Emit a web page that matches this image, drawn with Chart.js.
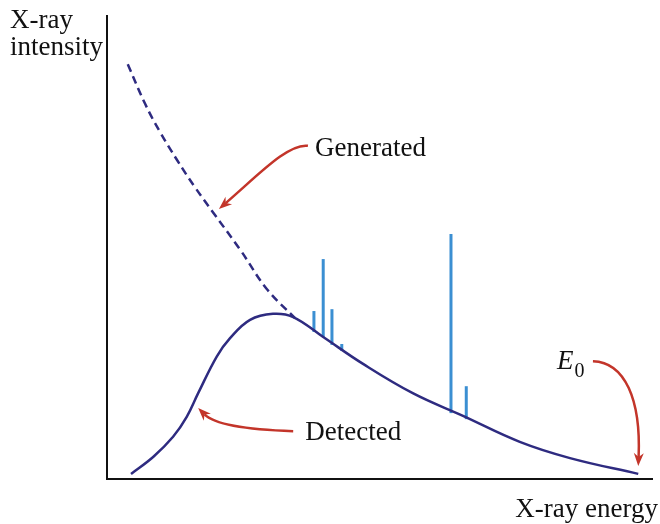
<!DOCTYPE html>
<html>
<head>
<meta charset="utf-8">
<title>X-ray spectrum</title>
<script src="https://cdn.jsdelivr.net/npm/chart.js@4/dist/chart.umd.min.js"></script>
<style>
  html, body { margin: 0; padding: 0; background: #fff; }
  #wrap { width: 660px; height: 524px; }
</style>
</head>
<body>
<div id="wrap"><canvas id="spectrum" width="660" height="524"></canvas></div>
<script>
// Energy (0-100) and intensity (0-100)
const detectedEnergy    = [4.4, 8.5, 12.1, 14.6, 16.7, 20.1, 22.5, 26.2, 30.4, 34.1, 39.6, 46.9, 56.0, 65.2, 75.6, 84.8, 97.3];
const detectedIntensity = [1.1, 4.8, 9.1, 13.4, 18.5, 26.4, 30.3, 34.3, 35.6, 34.9, 30.6, 24.8, 18.5, 13.6, 8.0, 4.5, 1.1];

const generatedEnergy    = [3.8, 7.0, 9.7, 12.8, 16.1, 19.4, 24.4, 29.3, 34.4];
const generatedIntensity = [89.4, 80.8, 74.8, 68.8, 62.9, 57.5, 49.4, 40.9, 34.7];

// characteristic lines: position, base (on the detected curve) and top
const peakEnergy = [37.9, 39.6, 41.2, 43.0, 63.0, 65.8];
const peakBase   = [31.7, 30.6, 28.9, 27.6, 14.2, 12.9];
const peakTop    = [36.2, 47.4, 36.6, 29.1, 52.8, 20.0];

const curveColor = '#2e2b80';
const peakColor = '#3b8fd2';
const arrowColor = '#c3352a';
const serif = '"Liberation Serif", "DejaVu Serif", serif';

function toPoints(xs, ys) {
    return xs.map(function(x, i) { return { x: x, y: ys[i] }; });
}

const datasets = [
    {
        label: 'Detected',
        data: toPoints(detectedEnergy, detectedIntensity),
        borderColor: curveColor,
        borderWidth: 2.5,
        tension: 0.4,
        pointRadius: 0
    },
    {
        label: 'Generated',
        data: toPoints(generatedEnergy, generatedIntensity),
        borderColor: curveColor,
        borderWidth: 2.5,
        borderDash: [8, 5],
        tension: 0.4,
        pointRadius: 0
    }
];

peakEnergy.forEach(function(e, i) {
    datasets.push({
        label: 'Line ' + (i + 1),
        data: [{ x: e, y: peakBase[i] }, { x: e, y: peakTop[i] }],
        borderColor: peakColor,
        borderWidth: 3,
        pointRadius: 0
    });
});

// Callout arrows (cubic bezier, data units) and their labels
const arrows = [
    [[36.8, 71.8], [33.2, 72.4], [27.7, 65.5], [20.5, 58.2]],
    [[34.1, 10.3], [26.2, 10.6], [19.8, 11.6], [16.7, 15.3]],
    [[89.0, 25.4], [94.9, 25.2], [97.8, 17.0], [97.3, 2.8]]
];
const callouts = [
    { text: 'Generated', at: [38.1, 69.6] },
    { text: 'Detected', at: [36.3, 8.4] }
];

const decorations = {
    id: 'decorations',
    beforeDatasetsDraw: function(chart) {
        const ctx = chart.ctx;
        const a = chart.chartArea;
        ctx.save();
        ctx.strokeStyle = '#111';
        ctx.lineWidth = 2;
        ctx.beginPath();
        ctx.moveTo(a.left, a.top);
        ctx.lineTo(a.left, a.bottom);
        ctx.lineTo(a.right, a.bottom);
        ctx.stroke();
        ctx.restore();
    },
    afterDatasetsDraw: function(chart) {
        const ctx = chart.ctx;
        const xs = chart.scales.x;
        const ys = chart.scales.y;
        const a = chart.chartArea;
        const px = function(p) { return [xs.getPixelForValue(p[0]), ys.getPixelForValue(p[1])]; };

        ctx.save();
        // arrows
        ctx.strokeStyle = arrowColor;
        ctx.fillStyle = arrowColor;
        ctx.lineWidth = 2.5;
        arrows.forEach(function(pts) {
            const p = pts.map(px);
            const ang = Math.atan2(p[3][1] - p[2][1], p[3][0] - p[2][0]);
            const len = 13, half = 5;
            // shorten the stem so it ends inside the head
            const sx = p[3][0] - Math.cos(ang) * (len - 4);
            const sy = p[3][1] - Math.sin(ang) * (len - 4);
            ctx.beginPath();
            ctx.moveTo(p[0][0], p[0][1]);
            ctx.bezierCurveTo(p[1][0], p[1][1], p[2][0], p[2][1], sx, sy);
            ctx.stroke();
            const bx = p[3][0] - Math.cos(ang) * len;
            const by = p[3][1] - Math.sin(ang) * len;
            ctx.beginPath();
            ctx.moveTo(p[3][0], p[3][1]);
            ctx.lineTo(bx + Math.sin(ang) * half, by - Math.cos(ang) * half);
            ctx.lineTo(p[3][0] - Math.cos(ang) * (len - 4), p[3][1] - Math.sin(ang) * (len - 4));
            ctx.lineTo(bx - Math.sin(ang) * half, by + Math.cos(ang) * half);
            ctx.closePath();
            ctx.fill();
        });

        // labels
        ctx.fillStyle = '#111';
        ctx.textBaseline = 'alphabetic';
        ctx.textAlign = 'left';
        ctx.font = '27px ' + serif;
        callouts.forEach(function(c) {
            const p = px(c.at);
            ctx.fillText(c.text, p[0], p[1]);
        });

        // E0
        const e = px([82.4, 23.7]);
        ctx.font = 'italic 27px ' + serif;
        ctx.fillText('E', e[0], e[1]);
        const ew = ctx.measureText('E').width;
        ctx.font = '20px ' + serif;
        ctx.fillText('0', e[0] + ew + 1, e[1] + 8);

        // axis titles
        ctx.font = '27px ' + serif;
        ctx.fillText('X-ray', a.left - 97, a.top + 13);
        ctx.fillText('intensity', a.left - 97, a.top + 40);
        ctx.textAlign = 'right';
        ctx.fillText('X-ray energy', chart.width - 2, a.bottom + 38);
        ctx.restore();
    }
};

new Chart(document.getElementById('spectrum'), {
    type: 'line',
    data: { datasets: datasets },
    options: {
        responsive: false,
        animation: false,
        layout: { padding: { left: 107, right: 7, top: 15, bottom: 45 } },
        scales: {
            x: { type: 'linear', min: 0, max: 100, display: false },
            y: { type: 'linear', min: 0, max: 100, display: false }
        },
        plugins: {
            legend: { display: false },
            tooltip: { enabled: false }
        }
    },
    plugins: [decorations]
});
</script>
</body>
</html>
